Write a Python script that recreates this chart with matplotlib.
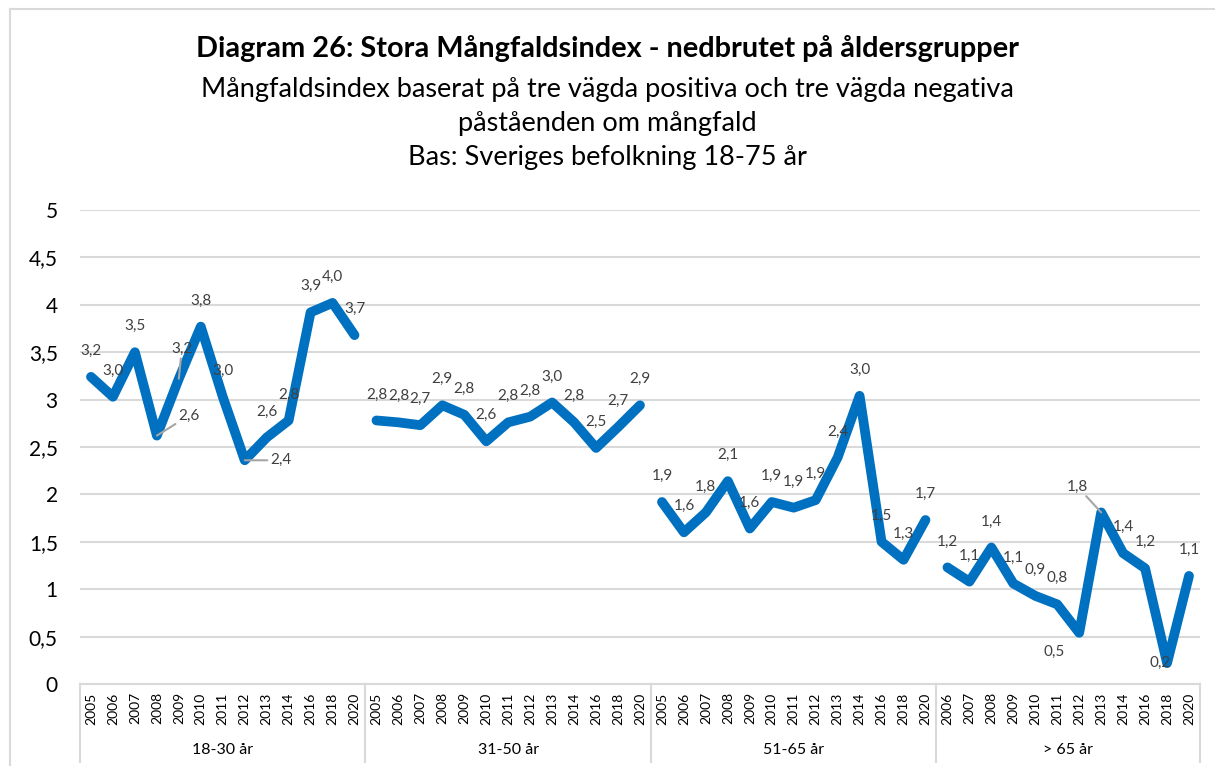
import numpy as np
import matplotlib
matplotlib.use("Agg")
import matplotlib.pyplot as plt
from matplotlib.lines import Line2D
import matplotlib.transforms as mtransforms

plt.rcParams['font.family'] = ['Lato', 'DejaVu Sans']

groups = ["18-30 år", "31-50 år", "51-65 år", "> 65 år"]
years_1830 = ["2005", "2006", "2007", "2008", "2009", "2010", "2011", "2012", "2013", "2014", "2016", "2018", "2020"]
years_3150 = ["2005", "2006", "2007", "2008", "2009", "2010", "2011", "2012", "2013", "2014", "2016", "2018", "2020"]
years_5165 = ["2005", "2006", "2007", "2008", "2009", "2010", "2011", "2012", "2013", "2014", "2016", "2018", "2020"]
years_65 = ["2006", "2007", "2008", "2009", "2010", "2011", "2012", "2013", "2014", "2016", "2018", "2020"]

vals_1830 = [3.24, 3.03, 3.50, 2.62, 3.22, 3.77, 3.03, 2.36, 2.60, 2.78, 3.92, 4.02, 3.68]
vals_3150 = [2.78, 2.76, 2.73, 2.94, 2.84, 2.56, 2.76, 2.82, 2.97, 2.76, 2.49, 2.71, 2.94]
vals_5165 = [1.92, 1.60, 1.81, 2.14, 1.64, 1.92, 1.86, 1.94, 2.39, 3.04, 1.50, 1.31, 1.73]
vals_65 = [1.23, 1.08, 1.44, 1.06, 0.93, 0.84, 0.54, 1.81, 1.38, 1.22, 0.22, 1.14]

all_years = [years_1830, years_3150, years_5165, years_65]
all_vals = [vals_1830, vals_3150, vals_5165, vals_65]

# label placement exceptions (group, index) -> (dx, dy px, leader)
label_fix = {
    (0, 3): (32, 20, True),
    (0, 4): (3, 30, True),
    (0, 7): (36, 0, True),
    (3, 6): (-25, -19, False),
    (3, 7): (-24, 26, True),
    (3, 10): (-7, 0, False),
}

W, H = 1215, 766
fig = plt.figure(figsize=(W / 100, H / 100), dpi=100)
ax = fig.add_axes([80 / W, (H - 684) / H, (1200 - 80) / W, (684 - 210) / H])

blue = "#0070C0"
grid_c = "#d9d9d9"
txt_c = "#404040"

start = 0
centers = []
bounds = [-0.5]
for g, (yrs, vals) in enumerate(zip(all_years, all_vals)):
    xs = np.arange(start, start + len(yrs))
    ax.plot(xs, vals, color=blue, lw=7, solid_joinstyle='round', solid_capstyle='round', zorder=3)
    for i, (x, v) in enumerate(zip(xs, vals)):
        lab = f"{v:.1f}".replace(".", ",")
        dx, dy, leader = label_fix.get((g, i), (0, 26, False))
        ap = None
        if leader:
            ap = dict(arrowstyle='-', color="#a6a6a6", lw=1.5, shrinkA=0, shrinkB=0)
        ax.annotate(lab, (x, v), xytext=(dx, dy), textcoords='offset pixels',
                    ha='center', va='center', fontsize=11, color=txt_c,
                    arrowprops=ap, zorder=4)
    centers.append(start + (len(yrs) - 1) / 2)
    start += len(yrs)
    bounds.append(start - 0.5)

n = start
ax.set_xlim(-0.5, n - 0.5)
ax.set_ylim(0, 5)

ticks = np.arange(0, 5.01, 0.5)
ax.set_yticks(ticks)
ax.set_yticklabels([("%g" % t).replace(".", ",") for t in ticks], fontsize=15, color="#000000")
ax.yaxis.grid(True, color=grid_c, lw=1.5)
ax.set_axisbelow(True)
ax.tick_params(axis='y', length=0, pad=16)

ax.set_xticks(np.arange(n))
ax.set_xticklabels(years_1830 + years_3150 + years_5165 + years_65, rotation=90, fontsize=10, color="#000000")
ax.tick_params(axis='x', length=0, pad=6)

for s in ["left", "right", "top"]:
    ax.spines[s].set_visible(False)
ax.spines["bottom"].set_color(grid_c)
ax.spines["bottom"].set_linewidth(1.5)

trans = mtransforms.blended_transform_factory(ax.transData, ax.transAxes)
for b in bounds:
    ax.plot([b, b], [0, -0.165], color=grid_c, lw=1.5, transform=trans, clip_on=False)
for c, name in zip(centers, groups):
    ax.text(c, -0.139, name, transform=trans, ha='center', va='center', fontsize=11.5, color="#000000")

# titles
fig.text(0.5, (H - 48) / H, "Diagram 26: Stora Mångfaldsindex - nedbrutet på åldersgrupper",
         ha='center', va='center', fontsize=20.8, fontweight='bold', color="#000000")
fig.text(0.5, (H - 89) / H, "Mångfaldsindex baserat på tre vägda positiva och tre vägda negativa",
         ha='center', va='center', fontsize=19.5, color="#000000")
fig.text(0.5, (H - 124) / H, "påståenden om mångfald",
         ha='center', va='center', fontsize=19.5, color="#000000")
fig.text(0.5, (H - 158) / H, "Bas: Sveriges befolkning 18-75 år",
         ha='center', va='center', fontsize=19.5, color="#000000")

# chart border
fig.add_artist(Line2D([10 / W, 10 / W], [0, (H - 9) / H], color=grid_c, lw=1.5, transform=fig.transFigure))
fig.add_artist(Line2D([10 / W, 1], [(H - 9) / H, (H - 9) / H], color=grid_c, lw=1.5, transform=fig.transFigure))

fig.savefig("out.png", dpi=100, facecolor="white")
